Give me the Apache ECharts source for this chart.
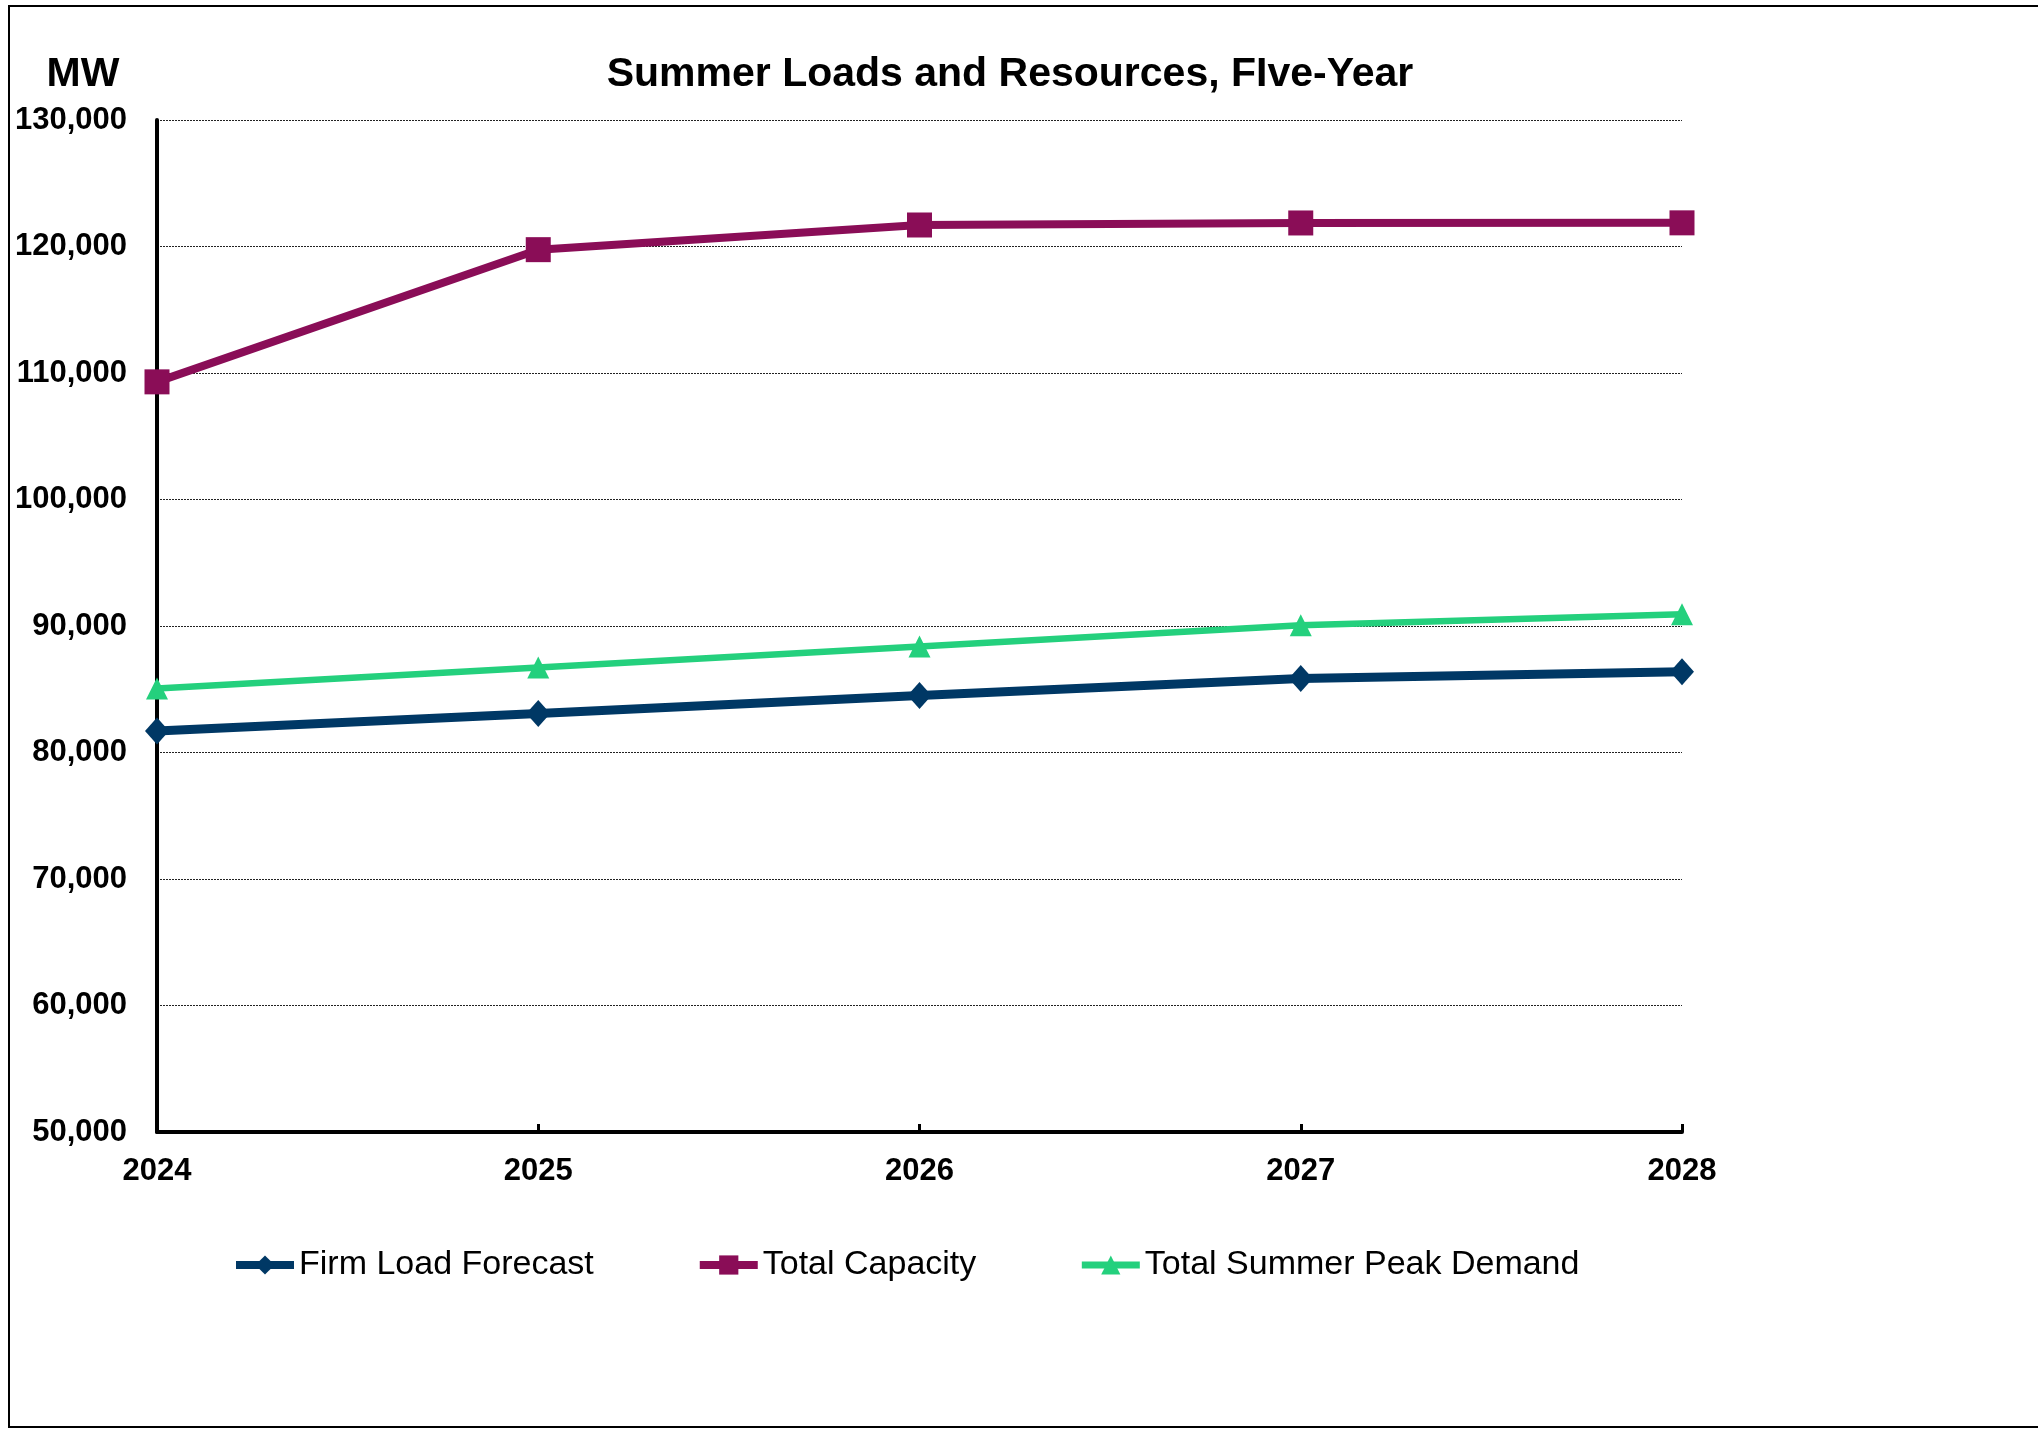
<!DOCTYPE html>
<html>
<head>
<meta charset="utf-8">
<script src="https://cdn.jsdelivr.net/npm/echarts@6/dist/echarts.min.js"></script>
<style>
html,body{margin:0;padding:0;background:#fff;}
#chart{width:2038px;height:1429px;}
</style>
</head>
<body>
<div id="chart"></div>
<script>
const years = ['2024', '2025', '2026', '2027', '2028'];
const firmLoadForecast = [81700, 83080, 84500, 85850, 86380];
const totalCapacity = [109300, 119750, 121700, 121860, 121870];
const totalSummerPeakDemand = [85050, 86720, 88380, 90050, 90920];
const seriesNames = ['Firm Load Forecast', 'Total Capacity', 'Total Summer Peak Demand'];
const chartTitle = 'Summer Loads and Resources, FIve-Year';
const unitLabel = 'MW';

const FONT = '"Liberation Sans", Arial, sans-serif';
const NAVY = '#003865', PURPLE = '#8A0D57', GREEN = '#24D07D';
const chart = echarts.init(document.getElementById('chart'), null, {renderer: 'canvas'});

chart.setOption({
  backgroundColor: '#ffffff',
  animation: false,
  title: [{
    text: chartTitle,
    left: 1010,
    top: 54,
    textAlign: 'center',
    padding: 0,
    textStyle: {fontFamily: FONT, fontWeight: 'bold', fontSize: 41, color: '#000'}
  }, {
    text: unitLabel,
    left: 83,
    top: 54,
    textAlign: 'center',
    padding: 0,
    textStyle: {fontFamily: FONT, fontWeight: 'bold', fontSize: 41, color: '#000'}
  }],
  graphic: [{
    type: 'rect',
    silent: true,
    shape: {x: 9, y: 6, width: 2200, height: 1421},
    style: {fill: 'none', stroke: '#000', lineWidth: 2}
  }],
  legend: {
    data: [
      {name: seriesNames[0], lineStyle: {width: 8}},
      {name: seriesNames[1], lineStyle: {width: 8}},
      {name: seriesNames[2], lineStyle: {width: 7}}
    ],
    left: 232,
    top: 1248,
    padding: 0,
    itemGap: 102,
    itemWidth: 58,
    itemHeight: 24,
    textStyle: {fontFamily: FONT, fontSize: 34, color: '#000'}
  },
  grid: {left: 157, right: 356, top: 120, bottom: 297, containLabel: false},
  xAxis: {
    type: 'category',
    data: years,
    boundaryGap: false,
    axisLine: {show: true, lineStyle: {color: '#000', width: 4}},
    axisTick: {show: true, inside: true, length: 8, lineStyle: {color: '#000', width: 3}},
    axisLabel: {fontFamily: FONT, fontWeight: 'bold', fontSize: 31, color: '#000', margin: 24},
    splitLine: {show: false}
  },
  yAxis: {
    type: 'value',
    min: 50000,
    max: 130000,
    interval: 10000,
    axisLine: {show: true, lineStyle: {color: '#000', width: 4}},
    axisTick: {show: false},
    axisLabel: {
      fontFamily: FONT, fontWeight: 'bold', fontSize: 31, color: '#000', margin: 30,
      formatter: v => v.toLocaleString('en-US')
    },
    splitLine: {show: true, lineStyle: {color: '#222', width: 1, type: [2, 1]}}
  },
  series: [{
    name: seriesNames[0],
    type: 'line',
    data: firmLoadForecast,
    symbol: 'diamond',
    symbolSize: [24, 27],
    color: NAVY,
    lineStyle: {width: 9, color: NAVY},
    itemStyle: {color: NAVY},
    z: 3
  }, {
    name: seriesNames[1],
    type: 'line',
    data: totalCapacity,
    symbol: 'rect',
    symbolSize: 25,
    color: PURPLE,
    lineStyle: {width: 8, color: PURPLE},
    itemStyle: {color: PURPLE},
    z: 3
  }, {
    name: seriesNames[2],
    type: 'line',
    data: totalSummerPeakDemand,
    symbol: 'triangle',
    symbolSize: 22,
    color: GREEN,
    lineStyle: {width: 6.5, color: GREEN},
    itemStyle: {color: GREEN},
    z: 3
  }]
});
</script>
</body>
</html>
